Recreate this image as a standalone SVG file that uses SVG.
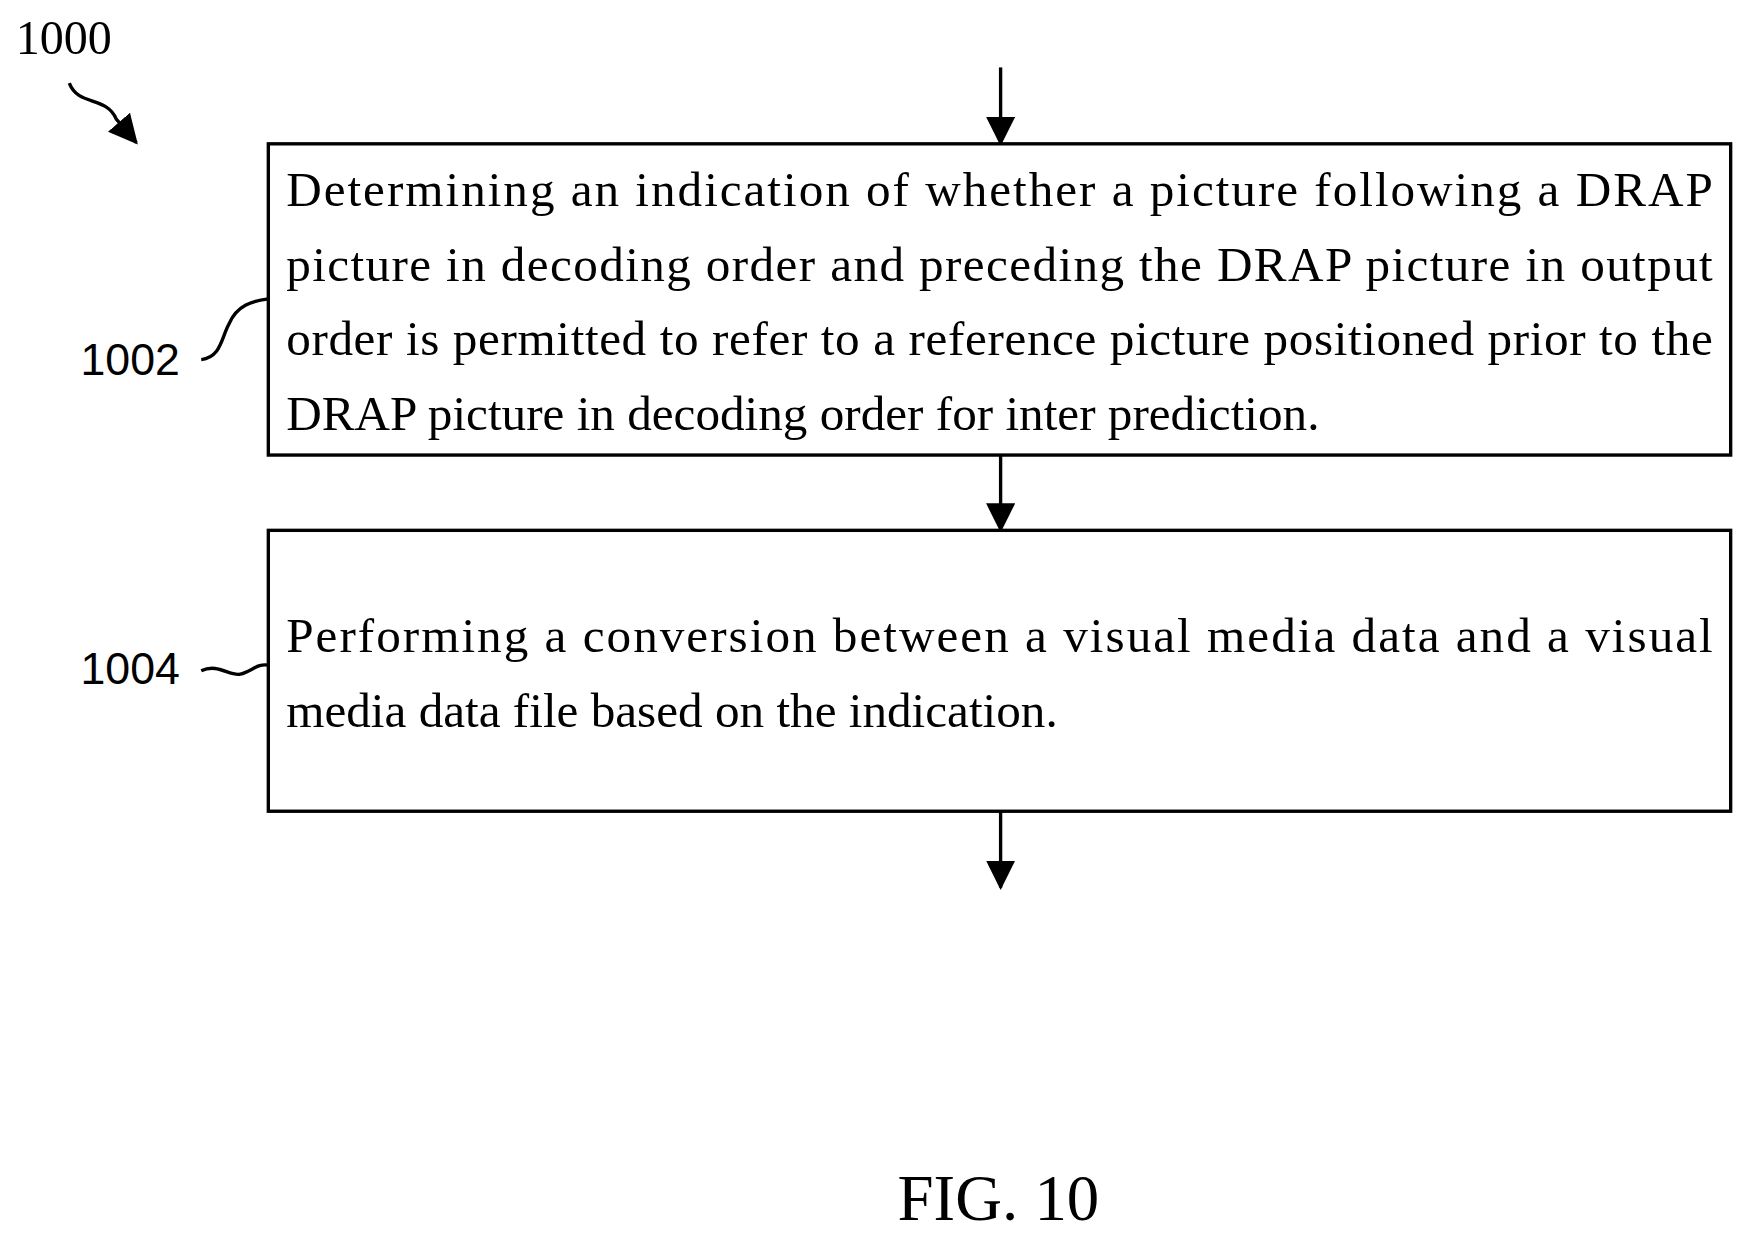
<svg xmlns="http://www.w3.org/2000/svg" width="1754" height="1236" viewBox="0 0 1754 1236">
<style>
.box{fill:#fff;stroke:#000;stroke-width:3}
.t{font-family:"Liberation Serif",serif;font-size:44px;fill:#000}
.lb{font-family:"Liberation Sans",sans-serif;font-size:40px;fill:#000}
.ln{stroke:#000;stroke-width:3;fill:none}
</style>
<defs>
<marker id="b" viewBox="0 0 26 26" refX="24" refY="13" markerWidth="26" markerHeight="26" orient="auto" markerUnits="userSpaceOnUse"><path d="M0,0L26,13L0,26z" fill="#000"/></marker></defs>
<rect width="1754" height="1236" fill="#fff"/>
<g transform="scale(1.118,1.1236)">
<text class="t" x="14" y="48" style="font-size:43px">1000</text>
<path class="ln" d="M62,74 C70,95 95,85 104,106 L122,127" marker-end="url(#b)"/>
<g id="connectors">
<path class="ln" d="M895,60V128" marker-end="url(#b)"/>
<path class="ln" d="M895,405V472" marker-end="url(#b)"/>
<path class="ln" d="M895,722V790" marker-end="url(#b)"/>
<path class="ln" d="M180,320 C198,318 198,300 205,288 C212,272 225,268 240,266"/>
<path class="ln" d="M180,597 C195,590 205,602 215,600 C225,598 230,590 240,592"/>
</g>
<g id="n1002">
<rect class="box" x="240" y="128" width="1308" height="277"/>
<text class="t" x="256" y="183" textLength="1276" lengthAdjust="spacing">Determining an indication of whether a picture following a DRAP</text>
<text class="t" x="256" y="250" textLength="1276" lengthAdjust="spacing">picture in decoding order and preceding the DRAP picture in output</text>
<text class="t" x="256" y="316" textLength="1276" lengthAdjust="spacing">order is permitted to refer to a reference picture positioned prior to the</text>
<text class="t" x="256" y="383">DRAP picture in decoding order for inter prediction.</text>
<text class="lb" x="72" y="334">1002</text>
</g>
<g id="n1004">
<rect class="box" x="240" y="472" width="1308" height="250"/>
<text class="t" x="256" y="580" textLength="1276" lengthAdjust="spacing">Performing a conversion between a visual media data and a visual</text>
<text class="t" x="256" y="647">media data file based on the indication.</text>
<text class="lb" x="72" y="609">1004</text>
</g>
<text class="t" x="893" y="1086" text-anchor="middle" style="font-size:58px">FIG. 10</text>
</g>
</svg>
